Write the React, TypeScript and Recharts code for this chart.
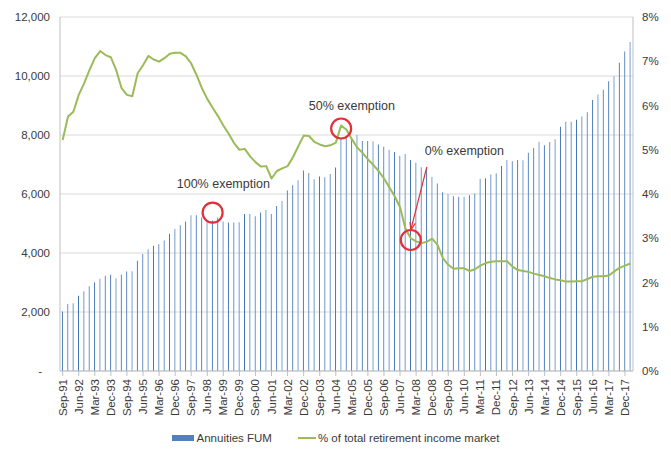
import React from "react";
import {
  ComposedChart,
  Bar,
  Line,
  XAxis,
  YAxis,
  CartesianGrid,
  Legend,
  ReferenceDot,
  ReferenceLine,
} from "recharts";

// quarterly labels, Sep-91 .. Mar-18
const MONTHS = ["Mar", "Jun", "Sep", "Dec"];
const quarters: string[] = [];
for (let i = 0; i < 107; i++) {
  const k = i + 2;
  quarters.push(`${MONTHS[k % 4]}-${String((91 + Math.floor(k / 4)) % 100).padStart(2, "0")}`);
}

// Annuities FUM ($m)
const annuitiesFum = [
  2020, 2270, 2300, 2550, 2700, 2870, 3000, 3130, 3230, 3260,
  3140, 3260, 3370, 3380, 3740, 3970, 4130, 4250, 4300, 4420,
  4650, 4810, 4940, 5070, 5280, 5280, 5200, 5110, 5100, 5200,
  5070, 5030, 5030, 5040, 5320, 5320, 5250, 5370, 5460, 5320,
  5590, 5760, 6120, 6300, 6470, 6800, 6710, 6500, 6590, 6570,
  6680, 6900, 7900, 7950, 7850, 8000, 7800, 7800, 7790, 7680,
  7600, 7500, 7420, 7300, 7360, 7150, 7060, 6910, 6880, 6580,
  6360, 6060, 6000, 5920, 5910, 5910, 5960, 6020, 6520, 6530,
  6660, 6700, 6950, 7150, 7110, 7150, 7140, 7400, 7560, 7770,
  7650, 7760, 7860, 8280, 8450, 8450, 8520, 8630, 8770, 9190,
  9370, 9530, 9820, 9990, 10450, 10830, 11150,
];

// % of total retirement income market
const marketShare = [
  5.22, 5.75, 5.86, 6.24, 6.5, 6.8, 7.07, 7.23, 7.14, 7.09,
  6.8, 6.39, 6.24, 6.21, 6.73, 6.91, 7.12, 7.04, 6.99, 7.07,
  7.17, 7.19, 7.19, 7.11, 6.95, 6.69, 6.39, 6.15, 5.95, 5.76,
  5.55, 5.36, 5.15, 5.0, 5.02, 4.85, 4.72, 4.62, 4.63, 4.35,
  4.52, 4.58, 4.63, 4.83, 5.08, 5.32, 5.31, 5.18, 5.12, 5.08,
  5.1, 5.16, 5.55, 5.45, 5.24, 5.05, 4.93, 4.78, 4.66, 4.52,
  4.35, 4.15, 3.95, 3.7, 3.22, 3.0, 2.93, 2.89, 2.92, 2.99,
  2.85, 2.55, 2.4, 2.31, 2.32, 2.32, 2.26, 2.3, 2.38, 2.44,
  2.47, 2.48, 2.48, 2.48, 2.36, 2.28, 2.26, 2.24, 2.2, 2.17,
  2.14, 2.1, 2.07, 2.05, 2.02, 2.02, 2.03, 2.03, 2.08, 2.13,
  2.14, 2.14, 2.16, 2.25, 2.33, 2.38, 2.43,
];

const leftTicks = [0, 2000, 4000, 6000, 8000, 10000, 12000];
const rightTicks = [0, 1, 2, 3, 4, 5, 6, 7, 8];

// annotations, in data terms (category index, left-axis value)
const circles = [
  { at: 28, value: 5370 },
  { at: 52, value: 8220 },
  { at: 65, value: 4440 },
];
const notes = [
  { text: "100% exemption", at: 30, value: 6340 },
  { text: "50% exemption", at: 54, value: 9000 },
  { text: "0% exemption", at: 75, value: 7470 },
];
const arrow = { from: { at: 68, value: 6920 }, to: { at: 65, value: 4780 } };

const data = quarters.map((q, i) => ({
  quarter: q,
  fum: annuitiesFum[i],
  share: marketShare[i],
}));

const TEXT = "#3a3a3a";
const FONT = "'Liberation Sans', Arial, sans-serif";

const XTick = ({ x, y, payload }: any) => (
  <text
    transform={`translate(${x},${y}) rotate(-90)`}
    textAnchor="end"
    dy="0.35em"
    fontSize={11.5}
    fontFamily={FONT}
    fill={TEXT}
  >
    {payload.value}
  </text>
);

const LeftTick = ({ x, y, payload }: any) => (
  <text x={payload.value === 0 ? x - 8 : x} y={y} dy="0.35em" textAnchor="end" fontSize={11.5} fontFamily={FONT} fill={TEXT}>
    {payload.value === 0 ? "-" : payload.value.toLocaleString("en-US")}
  </text>
);

const RightTick = ({ x, y, payload }: any) => (
  <text x={x} y={y} dy="0.35em" textAnchor="start" fontSize={11.5} fontFamily={FONT} fill={TEXT}>
    {`${payload.value}%`}
  </text>
);

const ArrowShape = (p: any) => {
  const { x1, y1, x2, y2 } = p;
  const ang = Math.atan2(y2 - y1, x2 - x1);
  const len = 8;
  const a1 = ang + Math.PI - 0.35;
  const a2 = ang + Math.PI + 0.35;
  return (
    <g>
      <line x1={x1} y1={y1} x2={x2} y2={y2} stroke="#e0303a" strokeWidth={1.2} />
      <polyline
        points={`${x2 + len * Math.cos(a1)},${y2 + len * Math.sin(a1)} ${x2},${y2} ${x2 + len * Math.cos(a2)},${y2 + len * Math.sin(a2)}`}
        fill="none"
        stroke="#e0303a"
        strokeWidth={1.2}
      />
    </g>
  );
};

const renderLegend = () => (
  <div
    style={{
      display: "flex",
      justifyContent: "center",
      alignItems: "center",
      height: 24,
      fontFamily: FONT,
      fontSize: 11.5,
      color: TEXT,
    }}
  >
    <span style={{ display: "inline-block", width: 22, height: 6, background: "#4f81bd", marginRight: 3 }} />
    <span>Annuities FUM</span>
    <span style={{ display: "inline-block", width: 18, height: 2, background: "#9bbb59", marginLeft: 26, marginRight: 2 }} />
    <span>% of total retirement income market</span>
  </div>
);

export default function App() {
  return (
    <div style={{ position: "absolute", left: 0, top: 0, width: 671, height: 450, background: "#fff" }}>
      <ComposedChart
        width={671}
        height={450}
        data={data}
        margin={{ top: 17, right: 0, bottom: 0, left: 0 }}
        barCategoryGap="36%"
      >
        <defs>
          <linearGradient id="fumGrad" x1="0" y1="0" x2="1" y2="0">
            <stop offset="0%" stopColor="#7ea3d3" />
            <stop offset="50%" stopColor="#3f72b2" />
            <stop offset="100%" stopColor="#7ea3d3" />
          </linearGradient>
        </defs>
        <CartesianGrid yAxisId="left" vertical={false} stroke="#d9d9d9" />
        <XAxis
          dataKey="quarter"
          interval={2}
          height={55}
          tick={<XTick />}
          tickSize={5}
          tickMargin={3}
          stroke="#bfbfbf"
        />
        <YAxis
          yAxisId="left"
          width={60}
          domain={[0, 12000]}
          ticks={leftTicks}
          tick={<LeftTick />}
          tickLine={false}
          tickMargin={4}
          stroke="#bfbfbf"
        />
        <YAxis
          yAxisId="right"
          orientation="right"
          width={38}
          domain={[0, 8]}
          ticks={rightTicks}
          tick={<RightTick />}
          tickLine={false}
          tickMargin={3}
          stroke="#bfbfbf"
        />
        <Legend verticalAlign="bottom" height={24} content={renderLegend} />
        <Bar yAxisId="left" dataKey="fum" name="Annuities FUM" fill="url(#fumGrad)" isAnimationActive={false} />
        <Line
          yAxisId="right"
          type="linear"
          dataKey="share"
          name="% of total retirement income market"
          stroke="#9bbb59"
          strokeWidth={2}
          strokeLinejoin="round"
          dot={false}
          isAnimationActive={false}
        />
        {circles.map((c, i) => (
          <ReferenceDot
            key={`c${i}`}
            yAxisId="left"
            x={quarters[c.at]}
            y={c.value}
            r={10}
            fill="none"
            stroke="#e0303a"
            strokeWidth={2.2}
          />
        ))}
        {notes.map((n, i) => (
          <ReferenceDot
            key={`n${i}`}
            yAxisId="left"
            x={quarters[n.at]}
            y={n.value}
            r={0}
            fill="none"
            stroke="none"
            label={{ value: n.text, position: "center", fill: TEXT, fontSize: 12.5, fontFamily: FONT }}
          />
        ))}
        <ReferenceLine
          yAxisId="left"
          segment={[
            { x: quarters[arrow.from.at], y: arrow.from.value },
            { x: quarters[arrow.to.at], y: arrow.to.value },
          ]}
          shape={ArrowShape}
        />
      </ComposedChart>
    </div>
  );
}
